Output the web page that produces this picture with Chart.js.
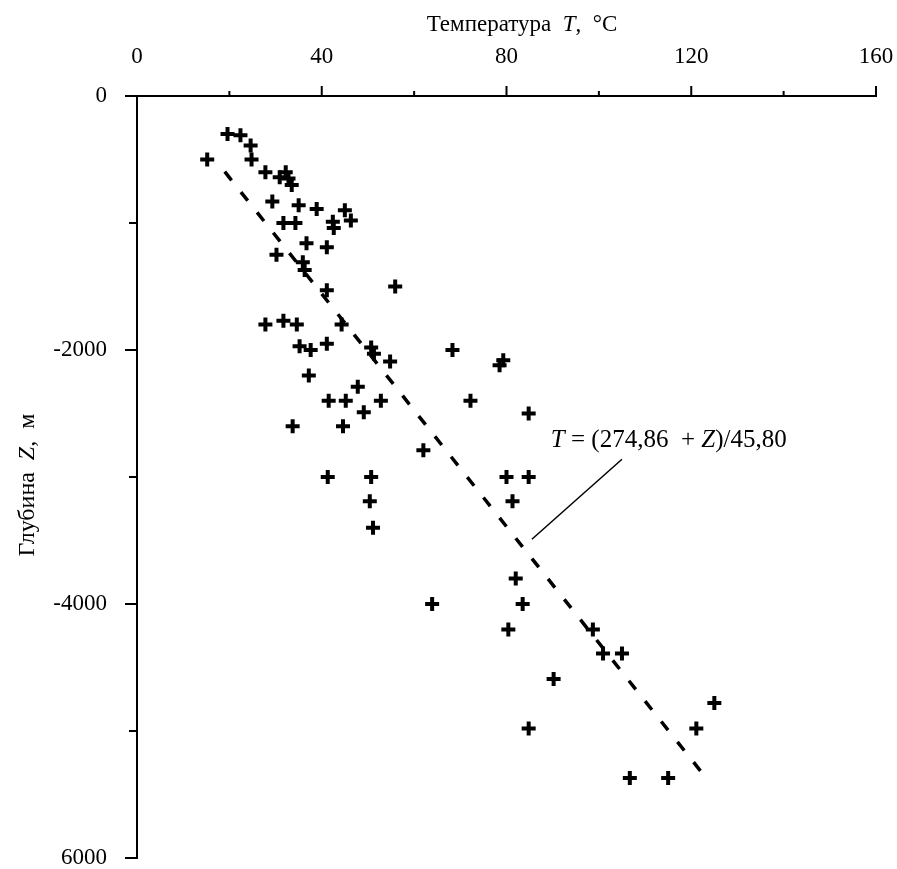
<!DOCTYPE html>
<html>
<head>
<meta charset="utf-8">
<script src="https://cdn.jsdelivr.net/npm/chart.js@4.4.0/dist/chart.umd.min.js"></script>
<style>
body { margin: 0; background: #fff; overflow: hidden; }
#wrap { position: relative; width: 897px; height: 869px; }
canvas { display: block; }
</style>
</head>
<body>
<div id="wrap"><canvas id="canvas"></canvas></div>
<script>
// measured points: temperature (°C) and depth (m, negative downwards)
var temperature = [19.6, 22.4, 24.6, 24.8, 15.2, 27.8, 30.9, 32.2, 32.8, 33.5,
	29.3, 35.0, 38.9, 45.0, 42.4, 46.3, 42.6, 31.7, 34.3, 36.7,
	41.1, 30.2, 35.9, 36.3, 41.1, 55.9, 27.8, 31.7, 34.6, 44.3,
	35.2, 37.6, 41.1, 50.7, 51.3, 54.8, 37.2, 47.8, 41.5, 45.2,
	52.8, 49.1, 33.7, 44.6, 62.0, 41.3, 50.7, 50.4, 51.1, 68.3,
	78.5, 79.3, 72.2, 84.8, 80.0, 84.8, 81.3, 82.0, 63.9, 83.5,
	80.4, 98.7, 100.9, 105.0, 90.2, 125.0, 84.8, 121.1, 106.7, 115.0];
var depth = [-300, -310, -390, -500, -500, -600, -640, -600, -650, -700,
	-830, -860, -890, -900, -990, -980, -1040, -1000, -1000, -1160,
	-1190, -1250, -1310, -1370, -1530, -1500, -1800, -1770, -1800, -1800,
	-1970, -2000, -1950, -1980, -2030, -2090, -2200, -2290, -2400, -2400,
	-2400, -2490, -2600, -2600, -2790, -3000, -3000, -3190, -3400, -2000,
	-2120, -2080, -2400, -2500, -3000, -3000, -3190, -3800, -4000, -4000,
	-4200, -4200, -4390, -4390, -4590, -4780, -4980, -4980, -5370, -5370];

// fitted line ends, T = (274,86 + Z)/45,80
var fitT = [19.0, 123.0];
var fitZ = [-596, -5360];

var xTickValues = [0, 40, 80, 120, 160];
var xTickLabels = ['0', '40', '80', '120', '160'];
var xMinorTicks = [20, 60, 100, 140];
var yTickValues = [0, -2000, -4000, -6000];
var yTickLabels = ['0', '-2000', '-4000', '6000'];
var yMinorTicks = [-1000, -3000, -5000];

var FONT = "'Liberation Serif', 'DejaVu Serif', serif";

function drawParts(ctx, parts, x, y, align, size) {
	var total = 0, i;
	for (i = 0; i < parts.length; i++) {
		ctx.font = (parts[i][1] ? 'italic ' : '') + size + 'px ' + FONT;
		total += ctx.measureText(parts[i][0]).width;
	}
	var cx = align === 'center' ? x - total / 2 : x;
	for (i = 0; i < parts.length; i++) {
		ctx.font = (parts[i][1] ? 'italic ' : '') + size + 'px ' + FONT;
		ctx.fillText(parts[i][0], cx, y);
		cx += ctx.measureText(parts[i][0]).width;
	}
}

var extras = {
	id: 'extras',
	afterDraw: function(chart) {
		var ctx = chart.ctx;
		var sx = chart.scales.x, sy = chart.scales.y;
		var area = chart.chartArea;
		ctx.save();
		ctx.strokeStyle = '#000';
		ctx.fillStyle = '#000';
		ctx.lineWidth = 2;
		ctx.beginPath();
		xTickValues.forEach(function(v) {
			if (v === 0) return;
			var px = sx.getPixelForValue(v);
			ctx.moveTo(px, area.top); ctx.lineTo(px, area.top - 10);
		});
		xMinorTicks.forEach(function(v) {
			var px = sx.getPixelForValue(v);
			ctx.moveTo(px, area.top); ctx.lineTo(px, area.top - 5);
		});
		yTickValues.forEach(function(v) {
			var py = sy.getPixelForValue(v);
			ctx.moveTo(area.left, py); ctx.lineTo(area.left - 12, py);
		});
		yMinorTicks.forEach(function(v) {
			var py = sy.getPixelForValue(v);
			ctx.moveTo(area.left, py); ctx.lineTo(area.left - 8, py);
		});
		ctx.stroke();

		// axis titles
		ctx.textBaseline = 'middle';
		drawParts(ctx, [['Температура  ', false], ['T', true], [',  °C', false]], 522, 25, 'center', 23);
		ctx.save();
		ctx.translate(28, 485);
		ctx.rotate(-Math.PI / 2);
		drawParts(ctx, [['Глубина  ', false], ['Z', true], [',  м', false]], 0, 0, 'center', 24);
		ctx.restore();

		// equation label and leader line
		ctx.textBaseline = 'alphabetic';
		drawParts(ctx, [['T', true], [' = (274,86  + ', false], ['Z', true], [')/45,80', false]],
			sx.getPixelForValue(89.6), sy.getPixelForValue(-2760), 'left', 25);
		ctx.lineWidth = 1.5;
		ctx.beginPath();
		ctx.moveTo(sx.getPixelForValue(105), sy.getPixelForValue(-2860));
		ctx.lineTo(sx.getPixelForValue(85.5), sy.getPixelForValue(-3490));
		ctx.stroke();
		ctx.restore();
	}
};

var points = temperature.map(function(t, i) { return { x: t, y: depth[i] }; });
var fitLine = fitT.map(function(t, i) { return { x: t, y: fitZ[i] }; });

window.onload = function() {
	var ctx = document.getElementById('canvas').getContext('2d');
	window.myChart = new Chart(ctx, {
		type: 'scatter',
		data: {
			datasets: [{
				label: 'data',
				data: points,
				pointStyle: 'cross',
				pointRadius: 7,
				pointBorderWidth: 4,
				borderColor: '#000',
				backgroundColor: '#000'
			}, {
				label: 'fit',
				type: 'line',
				data: fitLine,
				showLine: true,
				borderColor: '#000',
				borderWidth: 3.5,
				borderDash: [11, 15],
				pointRadius: 0,
				fill: false
			}]
		},
		options: {
			responsive: true,
			maintainAspectRatio: false,
			animation: false,
			layout: { padding: { left: 0, top: 0, right: 21, bottom: 10 } },
			plugins: {
				legend: { display: false },
				tooltip: { enabled: false }
			},
			scales: {
				x: {
					type: 'linear',
					position: 'top',
					min: 0,
					max: 160,
					grid: { display: false },
					border: { display: true, color: '#000', width: 2 },
					ticks: {
						stepSize: 40,
						padding: 17,
						color: '#000',
						font: { family: FONT, size: 23 },
						callback: function(v) {
							var i = xTickValues.indexOf(v);
							return i < 0 ? '' : xTickLabels[i];
						}
					},
					afterFit: function(scale) {
						scale.height = 96;
						scale.paddingLeft = 0;
						scale.paddingRight = 0;
					}
				},
				y: {
					type: 'linear',
					min: -6000,
					max: 0,
					grid: { display: false },
					border: { display: true, color: '#000', width: 2 },
					ticks: {
						stepSize: 2000,
						padding: 22,
						color: '#000',
						font: { family: FONT, size: 23 },
						callback: function(v) {
							var i = yTickValues.indexOf(v);
							return i < 0 ? '' : yTickLabels[i];
						}
					},
					afterFit: function(scale) {
						scale.width = 137;
						scale.paddingTop = 0;
						scale.paddingBottom = 0;
					}
				}
			}
		},
		plugins: [extras]
	});
};
</script>
</body>
</html>
